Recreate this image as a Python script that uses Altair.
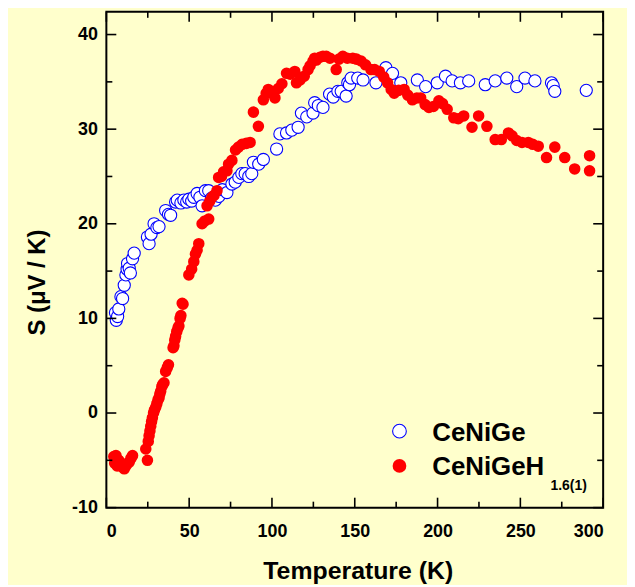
import altair as alt
import pandas as pd

# CeNiGe (open blue circles)
cenige_T = [5.5, 6.0, 6.8, 7.5, 8.8, 9.8, 10.8, 11.8, 12.5, 12.8, 13.8, 14.5, 15.8, 16.8,
            24.8, 25.8, 27.0, 28.8, 30.5, 31.8, 35.8, 37.5, 38.8, 41.8, 42.8, 45.0, 46.8,
            48.5, 49.8, 51.5, 52.8, 54.8, 56.5, 57.8, 59.8, 61.8, 63.5, 65.8, 68.0, 70.0,
            72.8, 75.8, 77.8, 80.0, 81.8, 83.8, 86.0, 87.8, 88.8, 92.0, 94.8, 102.8, 104.8,
            108.8, 112.0, 115.8, 117.8, 121.0, 124.8, 125.8, 128.0, 130.8, 134.8, 137.0,
            139.8, 141.8, 144.8, 145.8, 146.8, 147.8, 151.8, 155.0, 162.8, 168.8, 172.8,
            177.8, 187.8, 192.8, 199.8, 204.8, 208.8, 213.8, 218.8, 228.8, 234.8, 241.8,
            247.8, 252.8, 258.8, 268.8, 269.8, 270.8, 289.8]
cenige_S = [10.6, 9.8, 10.2, 11.0, 12.3, 12.1, 13.5, 14.6, 15.2, 15.8, 15.3, 14.8, 16.3, 16.9,
            18.6, 17.9, 18.9, 20.0, 19.6, 19.7, 21.4, 21.0, 20.9, 22.3, 22.5, 22.2, 22.5,
            22.3, 22.6, 22.4, 22.8, 23.2, 22.8, 21.9, 23.5, 23.5, 22.7, 22.5, 22.9, 23.6,
            23.3, 24.2, 24.4, 24.9, 25.3, 25.3, 25.0, 25.3, 26.5, 26.3, 26.8, 27.9, 29.5,
            29.6, 29.9, 30.2, 31.7, 31.3, 31.7, 32.8, 32.5, 32.3, 33.7, 33.4,
            34.0, 34.0, 33.5, 34.9, 34.7, 35.4, 35.4, 35.2, 34.9, 36.5, 35.9,
            34.9, 35.2, 34.5, 34.9, 35.6, 35.1, 34.9, 35.1, 34.7, 35.1, 35.4,
            34.5, 35.4, 35.1, 34.9, 34.6, 34.0, 34.1]

# CeNiGeH1.6(1) (filled red circles)
cenigeh_T = [4.5, 5.0, 5.8, 6.5, 7.5, 8.5, 9.5, 10.8, 11.8, 12.8, 13.8, 14.8, 15.8,
             23.8, 24.8, 25.3, 25.8, 26.3, 26.8, 27.3, 27.8, 28.5, 29.0, 29.8, 30.5, 31.2,
             31.8, 32.3, 32.8, 33.5, 34.0, 34.8, 35.8, 36.8, 37.5, 40.3, 40.8, 41.3, 41.8,
             42.5, 43.3, 43.8, 44.5, 45.0, 45.8, 46.3, 49.8, 51.5, 52.8, 53.8, 54.8, 55.8,
             57.8, 59.5, 61.8, 60.8, 62.5, 63.8, 65.0, 66.8, 67.8, 69.5, 70.8, 72.8, 73.8,
             75.8, 78.0, 79.8, 82.0, 84.5, 86.8, 88.8, 91.8, 94.8, 96.5, 97.8, 100.0, 101.8,
             103.8, 106.0, 108.8, 111.0, 113.8, 114.8, 117.0, 119.5, 121.8, 123.0, 124.8,
             125.8, 126.8, 129.0, 130.8, 132.8, 135.0, 138.8, 140.5, 142.8, 145.5, 148.8,
             151.0, 153.8, 156.5, 159.8, 162.0, 164.8, 167.5, 169.8, 172.0, 173.8, 176.5,
             179.8, 182.0, 184.8, 187.5, 189.8, 192.5, 194.8, 197.5, 200.8, 203.0, 205.8,
             209.8, 212.5, 215.8, 220.8, 224.8, 229.8, 234.8, 238.5, 242.8, 245.0, 247.8,
             251.0, 254.8, 257.5, 260.8, 265.8, 270.8, 276.8, 282.8, 291.8, 291.8]
cenigeh_S = [-4.6, -5.3, -4.5, -5.6, -5.0, -5.4, -5.7, -5.9, -5.6, -5.3, -5.2, -4.8, -4.5,
             -3.8, -5.0, -3.0, -2.4, -1.9, -1.4, -0.9, -0.5, 0.0, 0.3, 0.6, 1.0, 1.4,
             1.6, 2.0, 2.3, 2.8, 3.0, 3.2, 4.4, 4.8, 5.1, 6.9, 7.1, 7.7, 8.1,
             8.6, 9.0, 9.2, 10.0, 10.3, 11.6, 11.5, 14.6, 15.2, 16.0, 16.8, 17.2, 17.9,
             20.0, 20.3, 20.5, 21.9, 22.4, 22.8, 23.0, 23.5, 24.9, 25.0, 25.5, 25.6, 26.3,
             26.7, 27.8, 28.1, 28.4, 28.5, 28.6, 31.8, 30.3, 33.1, 33.8, 34.2, 33.8, 33.3,
             34.3, 34.8, 35.9, 35.8, 36.1, 34.9, 35.2, 35.6, 36.3, 36.7, 37.2,
             37.5, 37.3, 37.6, 37.7, 37.7, 37.5, 36.3, 37.4, 37.7, 37.5, 37.5,
             37.4, 37.2, 36.8, 36.3, 36.3, 36.1, 35.5, 34.9, 34.2, 33.8, 34.1,
             34.2, 33.6, 33.1, 33.3, 33.3, 32.6, 32.3, 32.4, 33.0, 32.7, 32.1,
             31.2, 31.1, 31.4, 30.2, 31.4, 30.3, 28.9, 28.9, 29.6, 29.3, 28.8,
             28.6, 28.6, 28.4, 28.2, 27.0, 28.1, 27.0, 25.8, 27.2, 25.6]

x_major = [0, 50, 100, 150, 200, 250, 300]
x_minor = [25, 75, 125, 175, 225, 275]
y_major = [-10, 0, 10, 20, 30, 40]
y_minor = [-5, 5, 15, 25, 35]

series_names = ["CeNiGe", "CeNiGeH"]
subscript = "1.6(1)"

W, H = 500, 499
FONT = "Liberation Sans"
BG = "#FFFFCC"

xscale = alt.Scale(domain=[0, 300], nice=False, zero=False)
yscale = alt.Scale(domain=[-10, 42.4], nice=False, zero=False)

df_a = pd.DataFrame({"T": cenige_T, "S": cenige_S})
df_b = pd.DataFrame({"T": cenigeh_T, "S": cenigeh_S})

xaxis = alt.Axis(values=x_major, ticks=False, domain=False, grid=False,
                 labelFont=FONT, labelFontSize=18, labelFontWeight="bold", labelColor="black",
                 labelPadding=15, title="Temperature (K)", titleFont=FONT, titleFontSize=25,
                 titleFontWeight="bold", titleColor="black", titleBaseline="alphabetic",
                 titleX=253, titleY=71)
yaxis = alt.Axis(values=y_major, ticks=False, domain=False, grid=False,
                 labelFont=FONT, labelFontSize=18, labelFontWeight="bold", labelColor="black",
                 labelPadding=9, labelExpr="replace(datum.label, '\u2212', '-')",
                 title="S (μV / K)", titleFont=FONT, titleFontSize=24,
                 titleFontWeight="bold", titleColor="black", titleBaseline="alphabetic",
                 titleX=-62, titleY=272)

X = alt.X("T:Q", scale=xscale, axis=xaxis)
Y = alt.Y("S:Q", scale=yscale, axis=yaxis)

blue = alt.Chart(df_a).mark_point(shape="circle", filled=True, fill="white", stroke="#0000FF",
                                  strokeWidth=1.1, size=150, opacity=1).encode(x=X, y=Y)
red = alt.Chart(df_b).mark_circle(color="#FF0000", size=135, opacity=1).encode(x=X, y=Y)

def xticks(vals, length):
    d = pd.DataFrame({"T": vals})
    bot = alt.Chart(d).mark_rule(color="black", strokeWidth=1.6).encode(
        x=X, y=alt.value(H), y2=alt.value(H - length))
    top = alt.Chart(d).mark_rule(color="black", strokeWidth=1.6).encode(
        x=X, y=alt.value(0), y2=alt.value(length))
    return [bot, top]

def yticks(vals, length):
    d = pd.DataFrame({"S": vals})
    left = alt.Chart(d).mark_rule(color="black", strokeWidth=1.6).encode(
        y=Y, x=alt.value(0), x2=alt.value(length))
    right = alt.Chart(d).mark_rule(color="black", strokeWidth=1.6).encode(
        y=Y, x=alt.value(W), x2=alt.value(W - length))
    return [left, right]

ticks = xticks(x_major, 10) + xticks(x_minor, 6) + yticks(y_major, 10) + yticks(y_minor, 6)

one = pd.DataFrame({"k": [0]})
leg_open = alt.Chart(one).mark_point(shape="circle", filled=True, fill="white", stroke="#0000FF",
                                     strokeWidth=1.1, size=190, opacity=1).encode(
    x=alt.value(295), y=alt.value(422))
leg_fill = alt.Chart(one).mark_circle(color="#FF0000", size=190, opacity=1).encode(
    x=alt.value(295), y=alt.value(457))
leg_t1 = alt.Chart(one).mark_text(font=FONT, fontSize=26, fontWeight="bold", color="black",
                                  align="left", baseline="alphabetic").encode(
    x=alt.value(328), y=alt.value(432), text=alt.value(series_names[0]))
leg_t2 = alt.Chart(one).mark_text(font=FONT, fontSize=26, fontWeight="bold", color="black",
                                  align="left", baseline="alphabetic").encode(
    x=alt.value(328), y=alt.value(466), text=alt.value(series_names[1]))
leg_sub = alt.Chart(one).mark_text(font=FONT, fontSize=14, fontWeight="bold", color="black",
                                   align="left", baseline="alphabetic").encode(
    x=alt.value(447), y=alt.value(481), text=alt.value(subscript))

chart = alt.layer(blue, red, *ticks, leg_open, leg_fill, leg_t1, leg_t2, leg_sub).properties(
    width=W, height=H,
    padding={"left": 99, "top": 2, "right": 24, "bottom": 76},
    autosize=alt.AutoSizeParams(type="none"),
    background=BG,
).configure_view(stroke="black", strokeWidth=2, fill=BG)

chart.save("out.html", embed_options={"renderer": "svg", "actions": False})
